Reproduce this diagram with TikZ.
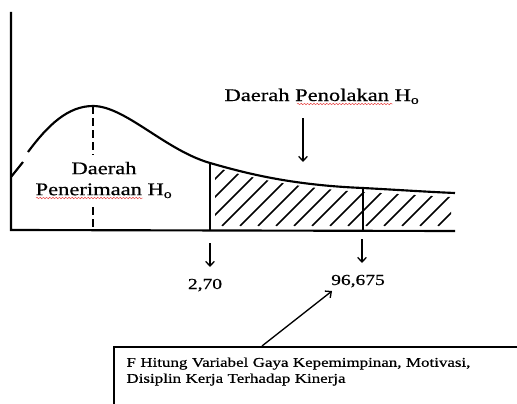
\documentclass[tikz,border=0pt]{standalone}
\usepackage{fontspec}
\setmainfont{Liberation Serif}[FakeStretch=1.27,FakeBold=0.6]
\usepackage{tikz}
\usetikzlibrary{arrows.meta,decorations.pathmorphing}
\definecolor{spell}{RGB}{230,60,60}

\begin{document}
\begin{tikzpicture}[x=0.75pt,y=-0.75pt,
  every node/.style={inner sep=0pt},
  axisline/.style={line width=1.6pt},
  pointer/.style={line width=1pt,-{Straight Barb[length=3.5pt,width=6.5pt]}},
  squiggle/.style={spell,line width=0.35pt,decorate,decoration={snake,amplitude=0.55pt,segment length=2.4pt}}]
\useasboundingbox (0,0) rectangle (517,403);
\clip (0,0) rectangle (517,403);

% axes
\coordinate (o) at (11,230);
\coordinate (top) at (11,12);
\coordinate (end) at (455,231);
\draw[axisline] (top) -- (o) -- (end);

% curve
\coordinate (peak) at (93,106);
\coordinate (t1) at (210,163);
\coordinate (t2) at (363,188);
\coordinate (tail) at (455,193);

\begin{scope}
\clip (215,167) .. controls (245,177) and (295,188) .. (363,192) .. controls (400,194) and (430,196) .. (451,197) -- (451,226) -- (215,226) -- cycle;
\foreach \i in {0,...,17}
  \draw[line width=1.1pt] (150+18*\i,226) -- ++(70,-70);
\end{scope}

\draw[axisline] (11,177) -- (23,162);
\draw[axisline] (28,152) .. controls (48,125) and (68,106) .. (peak)
  .. controls (125,106) and (165,150) .. (t1)
  .. controls (245,173) and (290,185) .. (t2)
  .. controls (400,190) and (430,192) .. (tail);

\draw[axisline] (t1) -- (t1 |- o);
\draw[axisline] (t2) -- (t2 |- o);
\draw[axisline,dash pattern=on 6pt off 3pt] (peak) -- (93,155);
\draw[axisline,dash pattern=on 6pt off 3pt] (93,207) -- (peak |- o);

% labels
\node[align=center,font=\fontsize{13.3}{15.75}\selectfont] (acc) at (104,180) {Daerah\\Penerimaan H\textsubscript{o}};
\draw[squiggle] (36,198) -- (143,198);

\node[anchor=base,font=\fontsize{13.3}{16}\selectfont] (rej) at (322,101) {Daerah Penolakan H\textsubscript{o}};
\draw[squiggle] (297,104) -- (393,104);
\coordinate (rejtip) at (303,162);
\draw[pointer] (303,118) -- (rejtip);

\node[anchor=base,font=\fontsize{11.5}{14}\selectfont] (ftab) at (205,289) {2,70};
\node[anchor=base,font=\fontsize{11.5}{14}\selectfont] (fhit) at (358,285) {96,675};
\draw[pointer] (210,243) -- (210,267);
\draw[pointer] (362,239) -- (362,263);

\node[draw,line width=1.3pt,anchor=north west,inner xsep=9.5pt,inner ysep=8pt,
  text width=330pt,text depth=60pt,align=left,font=\fontsize{10}{12}\selectfont] (box) at (113,346)
  {F Hitung Variabel Gaya Kepemimpinan, Motivasi,\\Disiplin Kerja Terhadap Kinerja};
\draw[pointer] (262,346) -- (332,291);
\end{tikzpicture}
\end{document}
